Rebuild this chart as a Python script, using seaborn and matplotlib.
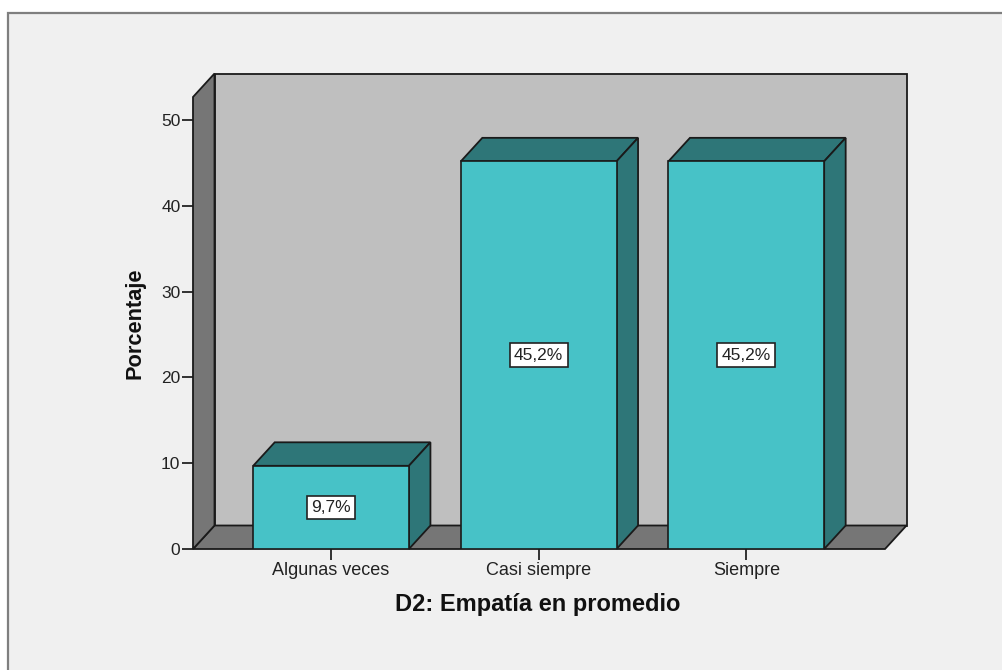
import matplotlib
matplotlib.use("Agg")
import matplotlib.pyplot as plt
from matplotlib.patches import Polygon, Rectangle
import pandas as pd
import seaborn as sns

categories = ["Algunas veces", "Casi siempre", "Siempre"]
percentages = [9.7, 45.2, 45.2]
value_labels = ["9,7%", "45,2%", "45,2%"]
y_ticks = [0, 10, 20, 30, 40, 50]

W, H = 1003, 670
FACE, DARK = "#47c2c7", "#2e7678"
WALL, SHADE = "#bfbfbf", "#767676"
EDGE = "#1a1a1a"

sns.set_theme(style="white")
plt.rcParams["font.family"] = ["Liberation Sans", "DejaVu Sans"]

fig = plt.figure(figsize=(W / 100, H / 100), dpi=100, facecolor="white")
fig.add_artist(Rectangle((8 / W, -0.01), 1.01 - 8 / W, 1.01 - 13 / H,
                         transform=fig.transFigure, facecolor="#f0f0f0",
                         edgecolor="#7f7f7f", linewidth=1.6, zorder=-5))

ax = fig.add_axes([193 / W, 1 - 549 / H, (885 - 193) / W, (549 - 97) / H])
ax.patch.set_alpha(0)
df = pd.DataFrame({"cat": categories, "pct": percentages})
sns.barplot(data=df, x="cat", y="pct", ax=ax, width=0.75, color=FACE, saturation=1,
            edgecolor=EDGE, linewidth=1.2, zorder=5)

ax.set_xlim(-0.665, 2.668)
ax.set_ylim(0, 52.7)
dx = 21.5 / 207.6
dy = 23.5 / 8.58
x0, x1 = ax.get_xlim()
y0, y1 = ax.get_ylim()


def poly(points, color, z):
    ax.add_patch(Polygon(points, closed=True, facecolor=color, edgecolor=EDGE,
                         linewidth=1.3, zorder=z, clip_on=False))


poly([(x0 + dx, y0 + dy), (x1 + dx, y0 + dy), (x1 + dx, y1 + dy), (x0 + dx, y1 + dy)], WALL, 1)
poly([(x0, y0), (x1, y0), (x1 + dx, y0 + dy), (x0 + dx, y0 + dy)], SHADE, 2)
poly([(x0, y0), (x0 + dx, y0 + dy), (x0 + dx, y1 + dy), (x0, y1)], SHADE, 2)

for i, (value, text) in enumerate(zip(percentages, value_labels)):
    left, right = i - 0.375, i + 0.375
    poly([(left, value), (right, value), (right + dx, value + dy), (left + dx, value + dy)], DARK, 4)
    poly([(right, 0), (right + dx, dy), (right + dx, value + dy), (right, value)], DARK, 4)
    ax.text(i, value / 2, text, ha="center", va="center", fontsize=12.5, color="#222222", zorder=7,
            bbox=dict(boxstyle="square,pad=0.25", facecolor="white", edgecolor="#222222", linewidth=1.2))

for side in ax.spines.values():
    side.set_visible(False)

ax.set_yticks(y_ticks)
ax.tick_params(axis="both", which="major", left=True, bottom=True, length=8, width=1.3,
               color="#222222", labelcolor="#222222", pad=1)
ax.tick_params(axis="x", labelsize=13, pad=1.5)
ax.tick_params(axis="y", labelsize=12.5)
ax.set_xlabel("D2: Empatía en promedio", fontsize=17, fontweight="bold", color="#111111")
ax.set_ylabel("Porcentaje", fontsize=15.7, fontweight="bold", color="#111111")
ax.xaxis.set_label_coords((537.5 - 193) / 692, -(605 - 549) / 452)
ax.xaxis.label.set_verticalalignment("center")
ax.yaxis.set_label_coords(-(192 - 134) / 692, (549 - 323) / 452)
ax.yaxis.label.set_verticalalignment("center")

fig.savefig("out.png", dpi=100, facecolor=fig.get_facecolor())
